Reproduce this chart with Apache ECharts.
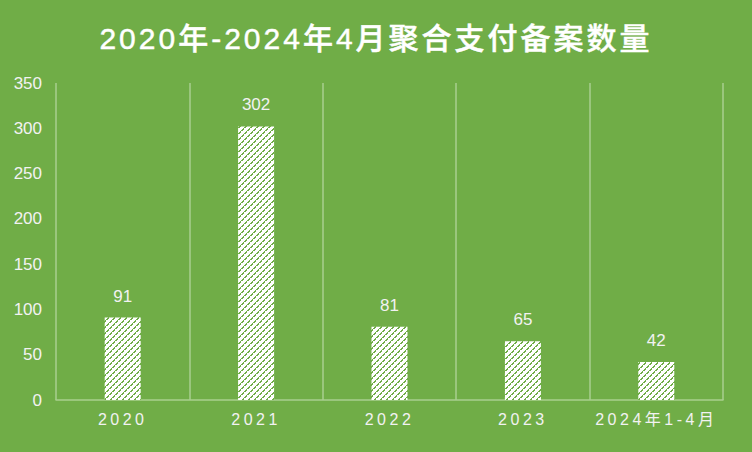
<!DOCTYPE html>
<html>
<head>
<meta charset="utf-8">
<script src="https://cdn.jsdelivr.net/npm/echarts@6/dist/echarts.min.js"></script>
<style>
	html, body { margin:0; padding:0; background:#70AD47; }
	#main { width:752px; height:452px; }
</style>
</head>
<body>
<div id="main"></div>
<script>
var TITLE = '2020年-2024年4月聚合支付备案数量' ;
var categories = ['2020', '2021', '2022', '2023', '2024年1-4月'] ;
var counts = [91, 302, 81, 65, 42] ;
var yTicks = [0, 50, 100, 150, 200, 250, 300, 350] ;

var BG = '#70AD47' ;
var TXT = '#f2f2f2' ;
var LINE = '#a9cf8f' ;

// 斜线填充 (虚线)
function makeHatch()
{
	var c = document.createElement('canvas') ;
	c.width = 6 ; c.height = 6 ;
	var ctx = c.getContext('2d') ;
	ctx.fillStyle = '#ffffff' ;
	ctx.fillRect(0, 0, 6, 6) ;
	ctx.fillStyle = BG ;
	for( var y = 0 ; y < 6 ; y++ )
	{
		var x = (5 - y + 6) % 6 ;
		ctx.fillRect(x, y, 1, 1) ;
		if( y % 3 != 2 ) ctx.fillRect((x + 1) % 6, y, 1, 1) ;
	}
	return c.toDataURL() ;
}

// 字间距 (svg)
function spaceText(dom)
{
	var list = dom.querySelectorAll('text') ;
	for( var i = 0 ; i < list.length ; i++ )
	{
		var t = list[i] ;
		var s = t.textContent ;
		if( s == TITLE ) t.setAttribute('letter-spacing', '3') ;
		else if( categories.indexOf(s) >= 0 ) t.setAttribute('letter-spacing', '3.5') ;
	}
}

function initPage()
{
	var dom = document.getElementById('main') ;
	var myChart = echarts.init(dom, null, { renderer:'svg' }) ;

	var option = {
		backgroundColor: BG,
		animation: false,
		title: {
			text: TITLE,
			left: 'center',
			top: 18,
			textStyle: {
				color: '#ffffff',
				fontSize: 30,
				fontWeight: 500,
				textBorderColor: '#ffffff',
				textBorderWidth: 0.45,
				fontFamily: 'Liberation Sans, Noto Sans CJK SC'
			}
		},
		grid: { left:56, right:29, top:83, bottom:52 },
		xAxis: {
			type: 'category',
			data: categories,
			axisLine: { lineStyle: { color: LINE, width: 1.5 } },
			axisTick: { show: false },
			splitLine: { show: true, lineStyle: { color: LINE, width: 1.5 } },
			axisLabel: {
				color: TXT,
				fontSize: 16,
				margin: 11,
				fontFamily: 'Liberation Sans, Noto Sans CJK SC'
			}
		},
		yAxis: {
			type: 'value',
			min: yTicks[0],
			max: yTicks[yTicks.length - 1],
			interval: 50,
			axisLine: { show: false },
			axisTick: { show: false },
			splitLine: { show: false },
			axisLabel: {
				color: TXT,
				fontSize: 17,
				margin: 14,
				fontFamily: 'Liberation Sans'
			}
		},
		series: [
			{
				type: 'bar',
				data: counts,
				barWidth: 36,
				itemStyle: {
					color: { image: makeHatch(), repeat: 'repeat' }
				},
				label: {
					show: true,
					position: 'top',
					distance: 13,
					color: TXT,
					fontSize: 17,
					fontFamily: 'Liberation Sans'
				}
			}
		]
	} ;

	myChart.on('finished', function() { spaceText(dom) ; }) ;
	myChart.setOption(option) ;
	spaceText(dom) ;
}

initPage() ;
</script>
</body>
</html>
